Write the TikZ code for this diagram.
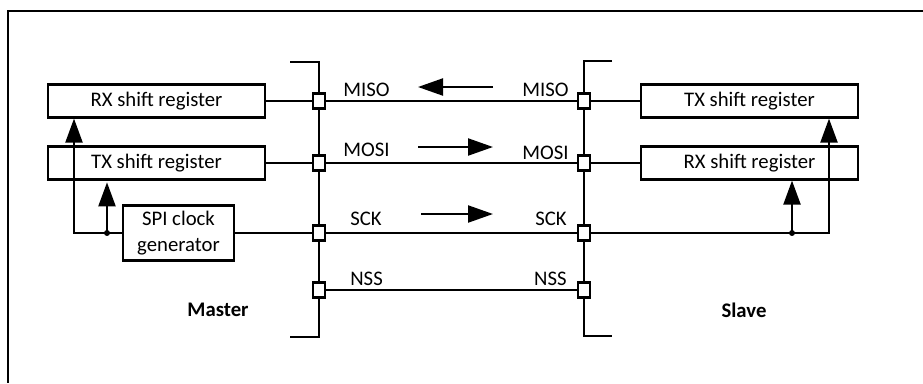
\documentclass[tikz,border=0pt]{standalone}
\usepackage{fontspec}
\setmainfont{Carlito}
\usetikzlibrary{arrows.meta,positioning}

\tikzset{
  wire/.style={line width=1.25pt},
  regbox/.style={draw,line width=1.25pt,minimum width=4.34cm,minimum height=0.66cm,inner sep=0pt},
  pinbox/.style={draw,line width=1.25pt,fill=white,minimum width=0.24cm,minimum height=0.3cm,inner sep=0pt},
  sig/.style={inner sep=0pt},
  uparrow/.style={line width=1.25pt,-{Triangle[length=4.8mm,width=3.4mm]}},
  dirarrow/.style={line width=1.25pt,-{Triangle[length=5mm,width=3.4mm]}},
}

\begin{document}
\begin{tikzpicture}[x=0.02cm,y=-0.02cm,font=\fontsize{11.8}{14.5}\selectfont]
  \useasboundingbox (0,0) rectangle (923,383);
  % frame
  \draw[wire] (923,11) -- (8,11) -- (8,383);

  % master side
  \node[regbox] (mrx) at (156.5,101) {RX shift register};
  \node[regbox] (mtx) at (156.5,163) {TX shift register};
  \node[draw,line width=1.25pt,minimum width=2.22cm,minimum height=1.1cm,
        inner sep=0pt,align=center] (clk) at (178.5,233) {SPI clock\\generator};
  \coordinate (mt1) at (290,62);
  \coordinate (mt2) at (319,62);
  \coordinate (mb2) at (319,337);
  \coordinate (mb1) at (290,337);
  \draw[wire] (mt1) -- (mt2) -- (mb2) -- (mb1);

  % slave side
  \node[regbox] (stx) at (749.5,101) {TX shift register};
  \node[regbox] (srx) at (749.5,163) {RX shift register};
  \coordinate (st1) at (612,61);
  \coordinate (st2) at (584,61);
  \coordinate (sb2) at (584,336);
  \coordinate (sb1) at (612,336);
  \draw[wire] (st1) -- (st2) -- (sb2) -- (sb1);

  % pins
  \node[pinbox] (mp1) at (319,101) {};
  \node[pinbox] (mp2) at (319,163) {};
  \node[pinbox] (mp3) at (319,233) {};
  \node[pinbox] (mp4) at (319,290) {};
  \node[pinbox] (sp1) at (584,101) {};
  \node[pinbox] (sp2) at (584,163) {};
  \node[pinbox] (sp3) at (584,233) {};
  \node[pinbox] (sp4) at (584,290) {};

  % signal lines
  \draw[wire] (mrx.east) -- (mp1) -- (sp1) -- (stx.west);
  \draw[wire] (mtx.east) -- (mp2) -- (sp2) -- (srx.west);
  \draw[wire] (clk.east) -- (mp3) -- (sp3);
  \draw[wire] (mp4) -- (sp4);

  % clock loops
  \coordinate (mc) at (74,233);
  \coordinate (mj) at (107,233);
  \draw[uparrow] (clk.west) -- (mc) -- (mc |- mrx.south);
  \draw[uparrow] (mj) -- ([yshift=-1pt]mj |- mtx.south);
  \fill (mj) circle (1.7pt);
  \coordinate (sc) at (829,233);
  \coordinate (sj) at (792,233);
  \draw[uparrow] (sp3) -- (sc) -- (sc |- stx.south);
  \draw[uparrow] (sj) -- (sj |- srx.south);
  \fill (sj) circle (1.7pt);

  % labels
  \node[sig,anchor=west] (lmiso) at (343,90) {MISO};
  \node[sig,anchor=west] (lmosi) at (343,150) {MOSI};
  \node[sig,anchor=west] (lsck) at (350,219) {SCK};
  \node[sig,anchor=west] (lnss) at (350,279) {NSS};
  \node[sig,anchor=east] (rmiso) at (569,90) {MISO};
  \node[sig,anchor=east] (rmosi) at (569,153) {MOSI};
  \node[sig,anchor=east] (rsck) at (567,219) {SCK};
  \node[sig,anchor=east] (rnss) at (567,279) {NSS};

  % direction arrows
  \coordinate (d1a) at (493,87);
  \coordinate (d1b) at (418,87);
  \coordinate (d2a) at (418,147);
  \coordinate (d2b) at (493,147);
  \coordinate (d3a) at (421,214);
  \coordinate (d3b) at (493,214);
  \draw[dirarrow] (d1a) -- (d1b);
  \draw[dirarrow] (d2a) -- (d2b);
  \draw[dirarrow] (d3a) -- (d3b);

  \node[font=\fontsize{11.8}{14.5}\selectfont\bfseries] (mname) at (218,310) {Master};
  \node[font=\fontsize{11.8}{14.5}\selectfont\bfseries] (sname) at (744,310) {Slave};
\end{tikzpicture}
\end{document}
